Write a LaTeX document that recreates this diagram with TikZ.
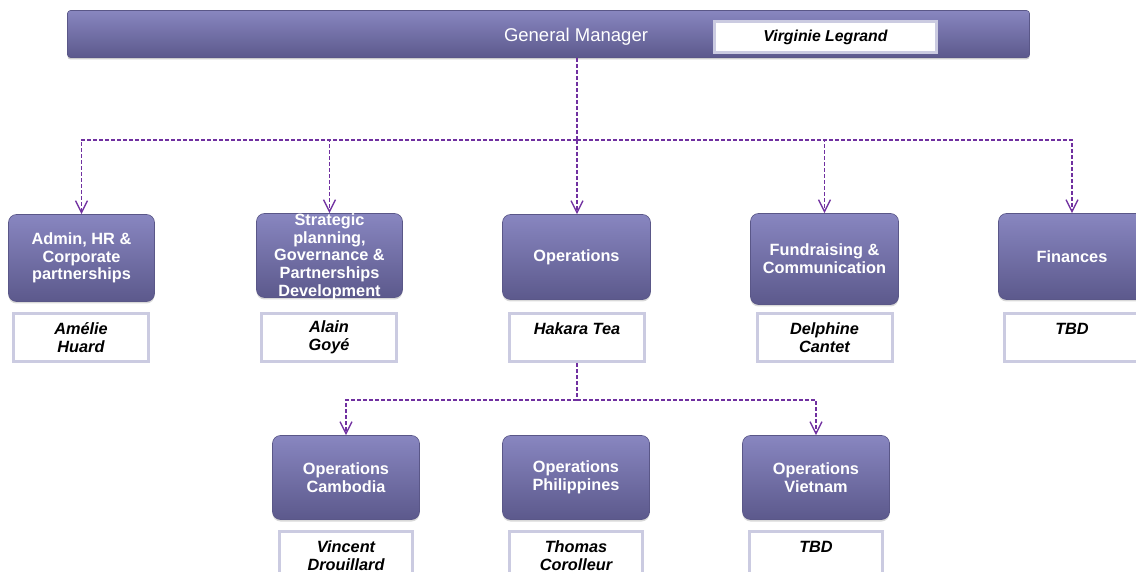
\documentclass[tikz,border=0pt]{standalone}
\usepackage{fontspec}
\setmainfont{Liberation Sans}
\usetikzlibrary{arrows.meta,shadows}
\definecolor{boxtop}{HTML}{8886C0}
\definecolor{boxbot}{HTML}{5C598C}
\definecolor{boxedge}{HTML}{5A5788}
\definecolor{lav}{HTML}{CBCBE1}
\definecolor{conncol}{HTML}{7030A0}
\begin{document}
\begin{tikzpicture}[x=1pt,y=-1pt,
 dept/.style={rectangle, rounded corners=8pt, top color=boxtop, bottom color=boxbot, draw=boxedge, line width=0.6pt, inner sep=0pt, text=white, align=center, font=\bfseries\fontsize{16.3}{17.7}\selectfont, drop shadow={opacity=0.3, shadow xshift=0pt, shadow yshift=-2pt}},
 depttext/.style={inner sep=0pt, text=white, align=center, font=\bfseries\fontsize{16.3}{17.7}\selectfont},
 topbar/.style={rectangle, rounded corners=3pt, top color=boxtop, bottom color=boxbot, draw=boxedge, line width=0.6pt, inner sep=0pt, drop shadow={opacity=0.4, shadow xshift=0pt, shadow yshift=-2pt}},
 namebox/.style={rectangle, fill=white, draw=lav, line width=3pt, inner sep=0pt, minimum width=135pt, minimum height=48pt, align=center, font=\bfseries\itshape\fontsize{16.3}{18}\selectfont},
 conn/.style={draw=conncol, line width=1.6pt, dash pattern=on 4pt off 2pt},
 arr/.style={conn, -{Straight Barb[length=12pt,width=12pt,line width=1.4pt]}}
]
\useasboundingbox (0,0) rectangle (1136,572);
\clip (0,0) rectangle (1136,572);

% top bar
\node[topbar, minimum width=962pt, minimum height=47pt] (gm) at (548.5,34) {};
\node[inner sep=0pt, text=white, font=\fontsize{18.5}{20}\selectfont] (gmtext) at (576,37) {General Manager};
\node[namebox, minimum width=222pt, minimum height=31pt, font=\bfseries\itshape\fontsize{15.8}{17}\selectfont] (gmname) at (825.5,37) {Virginie Legrand};

% level 1
\node[dept, minimum width=146pt, minimum height=87pt] (admin) at (81.5,258) {Admin, HR \&\\Corporate\\partnerships};
\node[dept, minimum width=146pt, minimum height=84pt] (strat) at (329.5,255.5) {};
\node[depttext] (strattext) at (329.5,256.5) {Strategic\\planning,\\Governance \&\\Partnerships\\Development};
\node[dept, minimum width=148pt, minimum height=85pt] (ops) at (576.5,257) {Operations};
\node[dept, minimum width=148pt, minimum height=91pt] (fund) at (824.5,259) {Fundraising \&\\Communication};
\node[dept, minimum width=147pt, minimum height=86pt] (fin) at (1072,256.5) {Finances};

\node[namebox] (n1) at (81,337.5) {Amélie\\Huard};
\node[namebox] (n2) at (329,337.5) {Alain\\Goyé};
\node[namebox] (n3) at (577,337.5) {Hakara Tea\\\mbox{}};
\node[namebox] (n4) at (824.5,337.5) {Delphine\\Cantet};
\node[namebox] (n5) at (1072,337.5) {TBD\\\mbox{}};

% level 2
\node[dept, minimum width=147pt, minimum height=84pt] (cam) at (346,477.5) {Operations\\Cambodia};
\node[dept, minimum width=147pt, minimum height=84pt] (phi) at (576,477.5) {Operations\\Philippines};
\node[dept, minimum width=147pt, minimum height=84pt] (vie) at (816,477.5) {Operations\\Vietnam};

\node[namebox, minimum width=133pt] (m1) at (346,555.5) {Vincent\\Drouillard};
\node[namebox, minimum width=133pt] (m2) at (576,555.5) {Thomas\\Corolleur};
\node[namebox, minimum width=133pt] (m3) at (816,555.5) {TBD\\\mbox{}};

% connectors
\coordinate (hub1) at (577,140);
\draw[conn] (gm.south -| hub1) -- (hub1);
\draw[arr] (hub1) -| (admin.north);
\draw[arr] (hub1) -| (strat.north);
\draw[arr] (hub1) -- (hub1 |- ops.north);
\draw[arr] (hub1) -| (fund.north);
\draw[arr] (hub1) -| (fin.north);

\coordinate (hub2) at (577,400);
\draw[conn] (n3.south) -- (hub2);
\draw[arr] (hub2) -| (cam.north);
\draw[arr] (hub2) -| (vie.north);
\end{tikzpicture}
\end{document}
